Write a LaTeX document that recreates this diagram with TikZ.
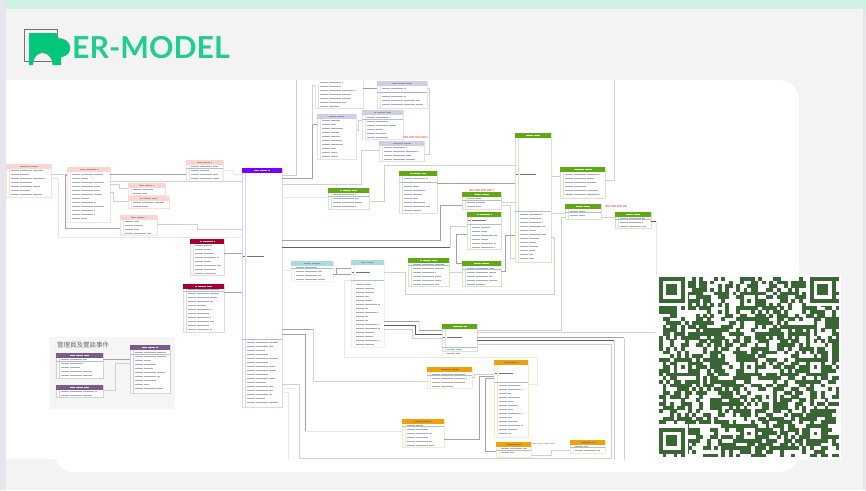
\documentclass[tikz,border=0pt]{standalone}
\usepackage{fontspec}
\setmainfont{Lato}
\newfontfamily\cjkfont{Noto Sans CJK TC}
\usetikzlibrary{calc}
\definecolor{bgGrey}{HTML}{F3F3F3}
\definecolor{stripL}{HTML}{E6E6EC}
\definecolor{topBand}{HTML}{CDF2E3}
\definecolor{logoG}{HTML}{00C77A}
\definecolor{titleG}{HTML}{1FCE8F}
\definecolor{qrG}{HTML}{3A6535}
\definecolor{sepBlue}{HTML}{A8C2D0}
\definecolor{rowTxt}{HTML}{A9ADB9}
\definecolor{pkTxt}{HTML}{6C7488}
\definecolor{pinkTxt}{HTML}{FFB0B0}
% themes: head / edge / head text
\definecolor{salH}{HTML}{F9D6CF}\definecolor{salE}{HTML}{F9E0DB}\definecolor{salT}{HTML}{B09A98}
\definecolor{vioH}{HTML}{7700FF}\definecolor{vioE}{HTML}{DDD5FB}\definecolor{vioT}{HTML}{D8C0FF}
\definecolor{redH}{HTML}{A5002C}\definecolor{redE}{HTML}{E8D6DB}\definecolor{redT}{HTML}{EFC8D0}
\definecolor{teaH}{HTML}{AADCDC}\definecolor{teaE}{HTML}{ECF1F3}\definecolor{teaT}{HTML}{7EAAAE}
\definecolor{greH}{HTML}{5FAA14}\definecolor{greE}{HTML}{D6E7C6}\definecolor{greT}{HTML}{DDF0C8}
\definecolor{oraH}{HTML}{F0A008}\definecolor{oraE}{HTML}{F8E8CC}\definecolor{oraT}{HTML}{9A7A30}
\definecolor{lavH}{HTML}{D0CDE4}\definecolor{lavE}{HTML}{E2E2EC}\definecolor{lavT}{HTML}{9A98B0}
\definecolor{purH}{HTML}{7B5A8C}\definecolor{purE}{HTML}{D6D0DC}\definecolor{purT}{HTML}{E6DCEC}
\definecolor{nonH}{HTML}{FFFFFF}\definecolor{nonE}{HTML}{E2E2EC}\definecolor{nonT}{HTML}{FFFFFF}
\tikzset{
  lnD/.style={draw=black!62,line width=.9pt},
  lnM/.style={draw=black!36,line width=.8pt},
  lnL/.style={draw=black!18,line width=.7pt},
  lnX/.style={draw=black!9,line width=.7pt},
  tblbox/.style={rectangle,fill=white,inner sep=0pt,outer sep=0pt,line width=.6pt,anchor=north west},
  rowline/.style={draw=rowTxt,line width=.95pt,dash pattern=on 2.6pt off .25pt on 1.6pt off .2pt on 3.4pt off .3pt},
  pkline/.style={draw=pkTxt,line width=1pt,dash pattern=on 2.8pt off .2pt on 1.8pt off .2pt},
  headline/.style={line width=.9pt,dash pattern=on 2pt off .3pt on 3pt off .3pt},
  notetext/.style={draw=pinkTxt,line width=1.2pt,dash pattern=on 3pt off .4pt on 2pt off .5pt}
}
% {name}{x1}{y1}{x2}{y2}{theme}{sepY}{rowStart}{keyRowY}
\newcommand{\ertbl}[9]{%
  \pgfmathsetmacro\tw{#4-#2}\pgfmathsetmacro\th{#5-#3}%
  \node[tblbox,draw=#6E,minimum width=\tw pt,minimum height=\th pt] (#1) at (#2,#3) {};
  \fill[#6H] (#2-.3,#3-.3) rectangle (#4+.3,#3+4.6);
  \pgfmathsetmacro\hl{#2+.5*\tw-.2*\tw}\pgfmathsetmacro\hr{#2+.5*\tw+.2*\tw}\pgfmathsetmacro\hy{#3+2.2}%
  \draw[headline,draw=#6T] (\hl,\hy) -- (\hr,\hy);
  \pgfmathsetmacro\kx{#2+3.6}\pgfmathsetmacro\tx{#2+5.2}%
  \draw[draw=#6E,line width=.8pt] (\kx,#3+4.6) -- (\kx,#5);
  \ifnum#7>0 \draw[draw=sepBlue,line width=1pt] (#2,#7) -- (#4,#7);\fi
  \ifnum#9>0 \pgfmathsetmacro\krr{#2+5.2+.42*\tw}\draw[pkline] (\tx,#9) -- (\krr,#9);
    \draw[draw=pkTxt,line width=.9pt] (#2+.8,#9) -- (#2+2.6,#9);\fi
  \pgfmathsetmacro\rnx{#8+4}\pgfmathsetmacro\rend{#5-1.5}%
  \foreach \ry in {#8,\rnx,...,\rend}{%
    \pgfmathsetmacro\rr{#2+5.2+(\tw-7)*(.42+.52*rnd)}%
    \draw[rowline] (\tx,\ry) -- (\rr,\ry);
  }%
}
\begin{document}
\begin{tikzpicture}[x=1pt,y=-1pt]
\pgfmathsetseed{4711}
\useasboundingbox (0,0) rectangle (866,490);
% page
\fill[bgGrey] (0,0) rectangle (866,490);
\fill[stripL] (0,0) rectangle (6,490);
\fill[stripL] (863,0) rectangle (866,490);
\fill[topBand] (6,0) rectangle (866,8.5);
% white panel
\fill[white] (6,80) rectangle (780,459);
\fill[white,rounded corners=20pt] (54,80) -- (799,80) -- (799,472) -- (54,472) -- cycle;
\fill[white] (6,80) rectangle (100,459);
% logo
\draw[black!55,line width=.7pt] (24.5,29.3) rectangle (57,61.5);
\fill[logoG] (29,33) -- (56.5,33) -- (57,36) .. controls (56,38.5) and (60,38.5) .. (63,39)
  .. controls (69,41) and (71,46) .. (70,50) .. controls (69,54) and (65,57) .. (61,57)
  -- (61,65) -- (52.5,65) .. controls (53,58) and (48,53) .. (42.5,53)
  .. controls (37,53) and (33,58) .. (33,65) -- (29,65) -- cycle;
\draw[black!45,line width=.4pt] (33,61.5) .. controls (34,56) and (38,52.5) .. (42.5,52.5)
  .. controls (47,52.5) and (50,56) .. (52,60);
\draw[black!45,line width=.4pt] (57,33) .. controls (56,38.5) and (60,38.5) .. (63,39)
  .. controls (67,40.5) and (69.5,44) .. (70,48);
\node[anchor=base west,inner sep=0pt,text=titleG] (logotitle) at (72,58.2) {\fontsize{30.3}{30.3}\selectfont\bfseries ER-MODEL};

% management panel
\fill[black!4] (49,337) rectangle (175,409);
\node[anchor=west,inner sep=0pt,text=black!58] (mgtitle) at (57,345.5) {\cjkfont\fontsize{6.5}{6.5}\selectfont 管理員及置談事件};

% tables: salmon
\ertbl{salA}{6}{164}{51}{197}{sal}{0}{170}{0}
\ertbl{salB}{67}{167}{110}{222}{sal}{0}{174}{0}
\ertbl{salC}{186}{160}{223}{181}{sal}{168}{166}{0}
\ertbl{salD}{128}{183}{165}{195}{sal}{0}{189}{0}
\ertbl{salE}{128}{196}{169}{208}{sal}{0}{202}{0}
\ertbl{salF}{120}{215}{157}{235}{sal}{0}{221}{0}
% big violet
\ertbl{vioBig}{242}{168}{282}{407}{vio}{339}{342}{256}
% red
\ertbl{redA}{190}{239}{224}{275}{red}{0}{245}{0}
\ertbl{redB}{183}{284}{224}{332}{red}{291}{289}{0}
% teal
\ertbl{teaA}{291}{261}{333}{281}{tea}{268}{267}{0}
\ertbl{teaB}{351}{260}{384}{347}{tea}{280}{284}{272}
% green
\ertbl{greA}{328}{188}{369}{209}{gre}{196}{194}{0}
\ertbl{greB}{399}{171}{437}{213}{gre}{182}{178}{0}
\ertbl{greC}{462}{192}{501}{209}{gre}{200}{198}{0}
\ertbl{greD}{467}{212}{501}{249}{gre}{224}{227}{220}
\ertbl{greE}{515}{133}{551}{262}{gre}{211}{214}{174}
\ertbl{greF}{560}{167}{605}{198}{gre}{0}{174}{0}
\ertbl{greG}{565}{204}{601}{219}{gre}{212}{211}{0}
\ertbl{greH}{615}{212}{651}{228}{gre}{219}{218}{0}
\ertbl{greI}{408}{258}{449}{286}{gre}{265}{264}{0}
\ertbl{greJ}{462}{261}{501}{286}{gre}{269}{268}{0}
\ertbl{greK}{442}{324}{477}{351}{gre}{347}{349}{337}
% orange
\ertbl{oraA}{427}{367}{472}{388}{ora}{375}{374}{0}
\ertbl{oraB}{494}{360}{528}{437}{ora}{382}{385}{373}
\ertbl{oraC}{402}{419}{444}{447}{ora}{426}{425}{0}
\ertbl{oraD}{496}{442}{531}{457}{ora}{450}{448}{0}
\ertbl{oraE}{570}{440}{605}{453}{ora}{447}{446}{0}
% lavender
\ertbl{lavA}{315}{80}{363}{108}{non}{0}{82}{0}
\ertbl{lavB}{377}{81}{427}{108}{lav}{92}{88}{0}
\ertbl{lavC}{362}{110}{403}{139}{lav}{119}{117}{0}
\ertbl{lavD}{317}{114}{356}{159}{lav}{0}{120}{0}
\ertbl{lavE}{379}{141}{424}{161}{lav}{0}{147}{0}
% management tables
\ertbl{purA}{130}{345}{170}{393}{pur}{354}{352}{0}
\ertbl{purB}{56}{353}{103}{378}{pur}{361}{359}{0}
\ertbl{purC}{56}{385}{103}{397}{pur}{0}{391}{0}

% notes (unreadable pink remarks)
\draw[notetext] (403,137) -- (428,137);
\draw[notetext] (469,190) -- (493,190);
\draw[notetext] (605,206) -- (627,206);
\draw[notetext] (532,443.5) -- (554,443.5);

% connectors
\draw[lnL] (salA.east |- 0,174) -- (salB.west |- 0,174);
\draw[lnL,draw=black!20!blue!10!white] (salA.east |- 0,178) -| (58,237) -- (vioBig.west |- 0,237);
\draw[lnM] (salB.west |- 0,175) -| (65,228) -- (salF.west |- 0,228);
\draw[lnM] (salB.east |- 0,174.5) -- (salC.west |- 0,174.5);
\draw[lnL] (salB.east |- 0,181) -- (vioBig.west |- 0,181);
\draw[lnL] (salB.east |- 0,184) -| (119,188) -- (salD.west |- 0,188);
\draw[lnL] (salB.east |- 0,192) -| (113,201) -- (salE.west |- 0,201);
\draw[lnL] (salF.east |- 0,224.5) -| (197,229) -- (vioBig.west |- 0,229);
\draw[lnX] (salC.east |- 0,170) -| (233,174) -- (vioBig.west |- 0,174);
\draw[lnM] (redA.east |- 0,253) -- (vioBig.west |- 0,253);
\draw[lnM] (redB.east |- 0,292.7) -- (vioBig.west |- 0,292.7);
\draw[lnL] (vioBig.east |- 0,175.7) -| (296,80);
\draw[lnM] (vioBig.east |- 0,178.7) -| (312.7,124.7) -- (lavD.west |- 0,124.7);
\draw[lnL] (lavA.west |- 0,85) -| (312.7,124.7);
\draw[lnL] (vioBig.east |- 0,184) -| (361.7,150) -- (lavE.west |- 0,150);
\draw[lnX] (vioBig.east |- 0,197.6) -- (greA.west |- 0,197.6);
\draw[lnM] (vioBig.east |- 0,240.3) -| (440.7,205.3) -- (greC.west |- 0,205.3);
\draw[lnD] (vioBig.east |- 0,247.3) -- (450,247.3);
\draw[lnL] (450,247.3) -- (450,226.7) -- (greD.west |- 0,226.7);
\draw[lnM] (greD.west |- 0,234.3) -| (456,263) -- (greJ.west |- 0,263);
\draw[lnX] (vioBig.east |- 0,270) -- (teaA.west |- 0,270);
\draw[lnL] (greA.east |- 0,201.7) -| (384.3,165.7) -- (greE.west |- 0,165.7);
\draw[lnM] (greB.east |- 0,183.3) -- (greE.west |- 0,183.3);
\draw[lnM] (lavA.east |- 0,88.3) -- (lavB.west |- 0,88.3);
\draw[lnL] (lavD.east |- 0,130) -| (358.3,120.7) -- (lavC.west |- 0,120.7);
\draw[lnL] (lavB.east |- 0,88) -| (429.3,154.5) -- (lavE.east |- 0,154.5);
\draw[lnL] (greF.east |- 0,180.3) -| (614.3,80);
\draw[lnL] (greE.east |- 0,176) -- (greF.west |- 0,176);
\draw[lnL] (greE.east |- 0,213.3) -- (greG.west |- 0,213.3);
\draw[lnL] (greC.east |- 0,205) -| (510,258) -- (greE.west |- 0,258);
\draw[lnL] (greC.east |- 0,202) -- (greE.west |- 0,202);
\draw[lnL] (teaB.east |- 0,272.3) -| (405.7,294.3) -| (554.3,237) -- (greE.east |- 0,237);
\draw[lnL] (greG.east |- 0,217.7) -- (greH.west |- 0,217.7);
\draw[lnL] (greG.west |- 0,217.7) -| (561.3,330) -- (greK.east |- 0,330);
\draw[lnL] (greK.east |- 0,332.3) -- (656,332.3);
\draw[lnM] (greK.east |- 0,337.7) -- (624.3,337.7);
\draw[lnL] (624.3,337.7) -- (624.3,460);
\draw[lnD] (greK.east |- 0,340.7) -- (614.3,340.7);
\draw[lnL] (614.3,340.7) -- (614.3,460);
\draw[lnL] (greK.east |- 0,344.3) -| (611.7,458.7) -- (299,458.7) -- (299,384.7) -- (vioBig.east |- 0,384.7);
\draw[lnM] (teaA.east |- 0,274.3) -| (336,268.3) -- (teaB.west |- 0,268.3);
\draw[lnM] (teaA.east |- 0,274.3) -- (teaB.west |- 0,274.3);
\draw[lnM] (teaB.east |- 0,321.3) -- (419.3,321.3);
\draw[lnX] (419.3,321.3) -- (419.3,330);
\draw[lnM] (419.3,330) -- (greK.west |- 0,330);
\draw[lnD] (teaB.east |- 0,325) -| (415.7,334.3) -- (greK.west |- 0,334.3);
\draw[lnL] (teaB.east |- 0,329.3) -| (412.7,338.3) -- (greK.west |- 0,338.3);
\draw[lnM] (vioBig.east |- 0,329) -- (313.3,329);
\draw[lnL] (313.3,329) -- (313.3,381.3) -- (oraA.west |- 0,381.3);
\draw[lnM] (vioBig.east |- 0,334.3) -| (305.3,431);
\draw[lnX] (305.3,431) -- (oraC.west |- 0,431);
\draw[lnX] (vioBig.east |- 0,388.3) -- (293.7,388.3);
\draw[lnX] (vioBig.east |- 0,392.3) -| (288.3,460);
\draw[lnX] (teaB.west |- 0,280) -| (344.3,357.3) -| (537.7,384.3) -- (oraB.east |- 0,384.3);
\draw[lnL] (oraA.east |- 0,377.7) -| (474.3,374) -- (oraB.west |- 0,374);
\draw[lnM] (oraC.east |- 0,439.3) -| (479.3,376) -- (oraB.west |- 0,376);
\draw[lnM] (oraB.west |- 0,378.3) -| (485,451.3) -- (oraD.west |- 0,451.3);
\draw[lnL] (oraD.east |- 0,455.3) -| (551.3,450) -- (oraE.west |- 0,450);
\draw[lnD] (greH.east |- 0,221.7) -- (656,221.7);
\draw[lnX] (656,221.7) -- (656,276);
\draw[lnM] (greJ.east |- 0,271.7) -| (505.7,235) -- (greE.west |- 0,235);
\draw[lnL] (greI.east |- 0,272) -- (greJ.west |- 0,272);
\draw[lnM] (purB.east |- 0,359.3) -- (purA.west |- 0,359.3);
\draw[lnL] (purC.east |- 0,390.7) -| (115.3,363.3) -- (purA.west |- 0,363.3);

% QR code
\fill[white] (656,275) rectangle (841,460);
\begin{scope}[shift={(659,277)},x=3.68pt,y=-3.68pt,yscale=1]
  \foreach \qr in {0,...,48}{\foreach \qc in {0,...,48}{%
    \pgfmathparse{rnd<.54?1:0}\ifnum\pgfmathresult>0
      \fill[qrG] (\qc-.02,\qr-.02) rectangle (\qc+1.02,\qr+1.02);\fi
  }}
  \foreach \fc/\fr in {0/0,41/0,0/41}{%
    \pgfmathsetmacro\fa{\fc==0?0:-1}\pgfmathsetmacro\fb{\fr==0?0:-1}%
    \fill[white] (\fc+\fa,\fr+\fb) rectangle ++(8,8);
    \fill[qrG] (\fc,\fr) rectangle ++(7,7);
    \fill[white] (\fc+1,\fr+1) rectangle ++(5,5);
    \fill[qrG] (\fc+2,\fr+2) rectangle ++(3,3);
  }
  \foreach \ac/\ar in {6/24,24/6,24/24,24/42,42/24,42/42}{%
    \fill[qrG] (\ac-2,\ar-2) rectangle ++(5,5);
    \fill[white] (\ac-1,\ar-1) rectangle ++(3,3);
    \fill[qrG] (\ac,\ar) rectangle ++(1,1);
  }
\end{scope}
\end{tikzpicture}
\end{document}
